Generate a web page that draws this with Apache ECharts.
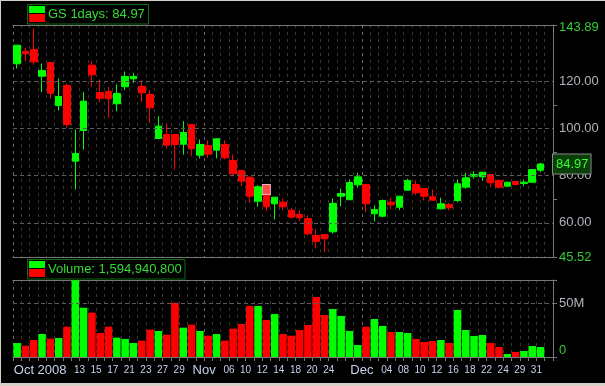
<!DOCTYPE html>
<html><head><meta charset="utf-8">
<script src="https://cdn.jsdelivr.net/npm/echarts@6/dist/echarts.min.js"></script>
<style>html,body{margin:0;padding:0;background:#000}#c{width:605px;height:386px}</style>
</head><body><div id="c"></div>
<script>
const symbolName = 'GS';
const periodName = '1days';
const dates = [
 '2008-10-01','2008-10-02','2008-10-03','2008-10-06','2008-10-07','2008-10-08','2008-10-09','2008-10-10','2008-10-13','2008-10-14',
 '2008-10-15','2008-10-16','2008-10-17','2008-10-20','2008-10-21','2008-10-22','2008-10-23','2008-10-24','2008-10-27','2008-10-28',
 '2008-10-29','2008-10-30','2008-10-31','2008-11-03','2008-11-04','2008-11-05','2008-11-06','2008-11-07','2008-11-10','2008-11-11',
 '2008-11-12','2008-11-13','2008-11-14','2008-11-17','2008-11-18','2008-11-19','2008-11-20','2008-11-21','2008-11-24','2008-11-25',
 '2008-11-26','2008-11-28','2008-12-01','2008-12-02','2008-12-03','2008-12-04','2008-12-05','2008-12-08','2008-12-09','2008-12-10',
 '2008-12-11','2008-12-12','2008-12-15','2008-12-16','2008-12-17','2008-12-18','2008-12-19','2008-12-22','2008-12-23','2008-12-24',
 '2008-12-26','2008-12-29','2008-12-30','2008-12-31'
];
const tickLabels = [
 'Oct 2008','','','','','','','','13','','15','','17','','21','','23','','27','','29','','',
 'Nov','','','06','','10','','12','','14','','18','','20','','24','','','',
 'Dec','','','04','','08','','10','','12','','16','','18','','22','','24','','29','','31',''
];
const opens = [127.44,132.78,133.5,122.18,127.99,109.76,118.24,86.14,99.16,126.85,
115.27,115.69,110.48,117.69,121.08,117.81,114.42,95.77,97.46,97.46,
93.35,101.7,88.7,92.8,90.81,93.22,86.44,82.2,79.36,69.18,
76.26,68.08,68.76,65.36,63.54,61.85,54.64,55.06,56.21,71.3,
69.8,76.13,76.26,63.84,62.82,68.76,66.64,73.85,76.26,74.57,
71.05,65.96,67.78,69.48,75.12,79.78,79.53,80.5,77.96,75.54,
77.53,76.69,77.24,82.33];
const highs = [135.4,134.35,142.4,127.57,128.0,121.2,118.96,99.58,115.57,128.54,
120.78,117.69,118.66,124.17,123.62,120.36,116.25,105.22,102.13,97.5,
103.1,101.9,95.34,95.05,95.7,94.92,88.98,82.3,79.5,75.97,
76.3,70.9,70.33,66.38,65.36,63.25,57.48,55.1,70.33,74.57,
78.4,81.22,76.3,67.36,69.9,70.62,71.4,78.68,77.96,74.6,
74.14,70.62,68.5,78.4,81.22,81.9,81.5,80.6,78.4,77.3,
77.6,78.4,82.7,85.5];
const lows = [125.45,128.54,127.14,115.4,112.6,107.6,100.3,74.14,91.1,117.69,
111.16,104.54,107.34,116.25,119.38,111.33,102.42,95.7,91.53,82.6,
89.0,88.26,87.3,87.58,87.3,86.9,79.78,75.54,68.5,66.81,
64.94,61.42,65.36,61.85,60.7,54.64,49.13,47.56,55.48,67.07,
69.7,74.86,64.52,60.7,62.4,65.66,65.36,73.7,71.73,69.48,
69.5,65.66,65.24,68.76,74.44,78.68,77.8,75.12,74.57,75.5,
75.84,75.54,77.1,81.48];
const closes = [135.33,131.68,128.29,124.6,114.97,113.57,101.7,89.4,111.58,122.78,
112.85,112.6,114.85,122.05,122.05,115.14,108.78,100.98,92.93,93.22,
98.31,91.4,93.22,89.11,95.64,87.58,80.8,77.66,71.3,75.29,
66.81,70.88,66.81,62.4,62.14,55.36,52.1,53.24,68.21,72.45,
77.11,79.5,68.09,65.66,69.48,67.65,71.3,77.96,72.74,71.3,
69.6,68.08,66.38,76.56,79.1,80.5,81.48,77.0,75.12,77.24,
76.26,77.24,82.6,84.97];
// volume in millions of shares
const volumes = [13.0,10.5,15.8,21.4,17.1,17.7,28.2,71.5,45.9,41.3,
22.3,28.2,18.0,16.8,13.0,15.2,25.4,24.2,20.8,50.6,
27.3,30.1,24.2,19.8,21.4,15.2,26.4,30.7,47.5,47.5,
34.5,40.0,21.4,19.8,25.1,29.8,55.9,39.1,44.7,38.2,
24.2,11.2,28.2,35.4,28.9,23.3,23.3,22.3,16.8,14.0,
14.9,15.8,13.0,43.8,25.1,19.6,20.5,13.0,9.3,2.8,
4.7,5.6,10.2,9.3];
const volumeTotalText = '1,594,940,800';
const priceMin = 45.52, priceMax = 143.89;
const priceLabels = [45.52, 60, 80, 100, 120, 143.89];
const priceTicks = [45.52, 70, 90, 110, 143.89];
const priceGridLines = [60, 80, 100, 120];
const volMax = 71.7;
const volLabels = [0, 50];
const volTicks = [0, 50, 71.7];
const volGridLines = [50];
const highlightIndex = 30;

const GREEN = '#00ff00', RED = '#ff0000';
const AX = '#787878';
const LBL = '#c4d2ec';
const YL = '#b0b4bc';
const TG = '#33cc33';
const FONT = 'Liberation Sans, Arial, sans-serif';

const cats = dates.concat(['']);
const monthStarts = [];
dates.forEach((d, i) => { if (i === 0 || d.slice(5, 7) !== dates[i - 1].slice(5, 7)) monthStarts.push(i); });
const candleData = dates.map((d, i) => [opens[i], closes[i], lows[i], highs[i]]);
const volData = volumes.map((v, i) => ({ value: v, itemStyle: { color: closes[i] >= opens[i] ? GREEN : RED } }));
const lastClose = closes[closes.length - 1];

const darkSplit = { show: true, interval: 0, lineStyle: { color: '#363636', type: [3, 4], width: 1 } };
const monthSplit = { show: true, interval: (i) => monthStarts.indexOf(i) >= 0, lineStyle: { color: '#6c6c6c', type: [3, 4], width: 1 } };
function xAx(grid, pos, extra) {
  return Object.assign({
    type: 'category', data: cats, gridIndex: grid, position: pos, boundaryGap: true,
    axisLine: { show: true, onZero: false, lineStyle: { color: AX } },
    axisTick: { show: false }, axisLabel: { show: false }, splitLine: { show: false }
  }, extra);
}
const bandPad = 540 / cats.length;

const option = {
  animation: false,
  backgroundColor: '#000',
  textStyle: { fontFamily: FONT },
  grid: [
    { left: 13, right: 52, top: 25, height: 232, containLabel: false, outerBoundsMode: 'none' },
    { left: 13, right: 52, top: 280, height: 77, containLabel: false, outerBoundsMode: 'none' }
  ],
  xAxis: [
    xAx(0, 'bottom', { splitLine: darkSplit }),
    xAx(0, 'top', { splitLine: monthSplit }),
    xAx(1, 'bottom', {
      splitLine: darkSplit,
      axisTick: { show: true, interval: 0, length: 4, lineStyle: { color: AX } },
      axisLabel: {
        show: true, interval: 0, margin: 6,
        formatter: (v, i) => {
          const t = tickLabels[i];
          if (!t) return '';
          if (i === 0) return '{m0|' + t + '}';
          if (/^[A-Za-z]/.test(t)) return '{m|' + t + '}';
          return '{d|' + t + '}';
        },
        rich: {
          d: { fontSize: 10, color: LBL, lineHeight: 14, fontFamily: FONT, padding: [0, bandPad, 0, 0] },
          m: { fontSize: 13, color: LBL, lineHeight: 14, fontFamily: FONT, padding: [0, bandPad, 0, 0] },
          m0: { fontSize: 13, color: LBL, lineHeight: 14, fontFamily: FONT, padding: [0, 0, 0, 46] }
        }
      }
    }),
    xAx(1, 'top', { splitLine: monthSplit })
  ],
  yAxis: [
    {
      type: 'value', gridIndex: 0, position: 'right', min: priceMin, max: priceMax,
      axisLine: { show: true, lineStyle: { color: AX } },
      axisTick: { show: true, length: 4, customValues: priceTicks, lineStyle: { color: AX } },
      axisLabel: {
        show: true, margin: 6, customValues: priceLabels,
        formatter: (v) => {
          const s = v.toFixed(2);
          if (Math.abs(v - priceMax) < 1e-6) return '{gt|' + s + '}';
          if (Math.abs(v - priceMin) < 1e-6) return '{g|' + s + '}';
          return '{n|' + s + '}';
        },
        rich: {
          n: { fontSize: 13, color: YL, fontFamily: FONT },
          g: { fontSize: 13, color: TG, fontFamily: FONT },
          gt: { fontSize: 13, color: TG, fontFamily: FONT, padding: [4, 0, 0, 0] }
        }
      },
      splitLine: { show: false }
    },
    {
      type: 'value', gridIndex: 1, position: 'right', min: 0, max: volMax,
      axisLine: { show: true, lineStyle: { color: AX } },
      axisTick: { show: true, length: 4, customValues: volTicks, lineStyle: { color: AX } },
      axisLabel: {
        show: true, margin: 6, customValues: volLabels,
        formatter: (v) => v === 0 ? '{g0|0}' : '{n|' + v + 'M}',
        rich: {
          n: { fontSize: 13, color: YL, fontFamily: FONT },
          g0: { fontSize: 13, color: TG, fontFamily: FONT, padding: [0, 0, 14, 0] }
        }
      },
      splitLine: { show: false }
    }
  ],
  series: [
    {
      type: 'line', xAxisIndex: 0, yAxisIndex: 0, data: [], z: 1, silent: true,
      markLine: {
        silent: true, symbol: ['none', 'none'], label: { show: false },
        lineStyle: { color: '#5c5c5c', type: [4, 3], width: 1 },
        data: priceGridLines.map(v => ({ yAxis: v }))
      }
    },
    {
      type: 'line', xAxisIndex: 2, yAxisIndex: 1, data: [], z: 1, silent: true,
      markLine: {
        silent: true, symbol: ['none', 'none'], label: { show: false },
        lineStyle: { color: '#5c5c5c', type: [4, 3], width: 1 },
        data: volGridLines.map(v => ({ yAxis: v }))
      }
    },
    {
      type: 'candlestick', xAxisIndex: 0, yAxisIndex: 0, z: 3, barWidth: 7,
      data: candleData,
      itemStyle: { color: GREEN, color0: RED, borderColor: GREEN, borderColor0: RED, borderWidth: 1 },
      markPoint: {
        silent: true,
        data: [{
          coord: [highlightIndex, opens[highlightIndex]], symbol: 'rect', symbolSize: [8, 10], symbolOffset: [0, 5],
          itemStyle: { color: 'rgba(255,140,140,0.55)', borderColor: 'rgba(255,200,200,0.9)', borderWidth: 1 },
          label: { show: false }
        }]
      }
    },
    {
      type: 'line', xAxisIndex: 0, yAxisIndex: 0, data: [], z: 10, silent: true,
      markLine: {
        silent: true, symbol: ['none', 'none'],
        lineStyle: { color: 'rgba(0,0,0,0)', width: 1 },
        label: {
          show: true, position: 'end', distance: 0, formatter: lastClose.toFixed(2),
          color: '#33ff33', fontSize: 13, fontFamily: FONT,
          backgroundColor: '#0a3f0a', borderColor: '#8a8a8a', borderWidth: 1, padding: [2, 2, 4, 3]
        },
        data: [{ yAxis: lastClose }]
      }
    },
    {
      type: 'bar', xAxisIndex: 2, yAxisIndex: 1, z: 3, barWidth: 7.5,
      data: volData
    }
  ],
  graphic: [
    { type: 'rect', silent: true, shape: { x: 0, y: 0, width: 605, height: 1 }, style: { fill: '#d4d0c8' } },
    { type: 'rect', silent: true, shape: { x: 0, y: 0, width: 1, height: 386 }, style: { fill: '#d4d0c8' } },
    { type: 'rect', silent: true, shape: { x: 0, y: 383, width: 605, height: 3 }, style: { fill: '#d4d0c8' } },
    { type: 'rect', silent: true, shape: { x: 27.5, y: 4.5, width: 121, height: 19.5 }, style: { fill: '#000', stroke: '#0e6b0e', lineWidth: 1 } },
    { type: 'rect', silent: true, shape: { x: 29, y: 6, width: 16, height: 7 }, style: { fill: GREEN } },
    { type: 'rect', silent: true, shape: { x: 29, y: 14, width: 16, height: 8 }, style: { fill: RED } },
    { type: 'text', silent: true, x: 48, y: 14, style: { text: symbolName + ' ' + periodName + ': ' + lastClose.toFixed(2), fill: '#33dd33', font: '13px ' + FONT, verticalAlign: 'middle' } },
    { type: 'rect', silent: true, shape: { x: 27.5, y: 259.5, width: 157.5, height: 19.5 }, style: { fill: '#000', stroke: '#0e6b0e', lineWidth: 1 } },
    { type: 'rect', silent: true, shape: { x: 29, y: 261, width: 16, height: 7 }, style: { fill: GREEN } },
    { type: 'rect', silent: true, shape: { x: 29, y: 269, width: 16, height: 8 }, style: { fill: RED } },
    { type: 'text', silent: true, x: 48, y: 269, style: { text: 'Volume: ' + volumeTotalText, fill: '#33dd33', font: '13px ' + FONT, verticalAlign: 'middle' } }
  ]
};
const chart = echarts.init(document.getElementById('c'), null, { renderer: 'canvas' });
chart.setOption(option);
</script>
</body></html>
